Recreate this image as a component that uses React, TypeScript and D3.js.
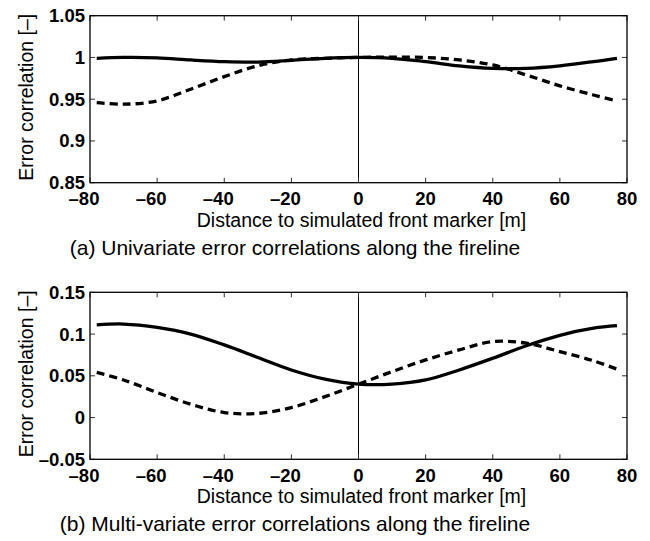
import React from 'react';
import * as d3 from 'd3';

// x positions (m) at which the curves were read
const distances = [-78, -70, -60, -50, -40, -30, -20, -10, 0, 10, 20, 30, 40, 50, 60, 70, 77];

// (a) univariate
const uniSolid = [0.999, 1.0, 0.9995, 0.997, 0.995, 0.9945, 0.9965, 0.999, 1.0, 0.999, 0.995, 0.99, 0.987, 0.987, 0.99, 0.995, 0.999];
const uniDashed = [0.946, 0.944, 0.948, 0.962, 0.977, 0.99, 0.997, 0.999, 1.0, 1.0005, 1.0, 0.997, 0.991, 0.979, 0.966, 0.955, 0.948];

// (b) multi-variate
const multiSolid = [0.111, 0.112, 0.108, 0.1, 0.087, 0.072, 0.057, 0.046, 0.04, 0.04, 0.045, 0.057, 0.071, 0.086, 0.0985, 0.107, 0.11];
const multiDashed = [0.054, 0.045, 0.03, 0.016, 0.006, 0.005, 0.012, 0.025, 0.04, 0.055, 0.069, 0.081, 0.091, 0.089, 0.079, 0.068, 0.058];

const xTicks = [-80, -60, -40, -20, 0, 20, 40, 60, 80];
const uniYTicks = [0.85, 0.9, 0.95, 1, 1.05];
const multiYTicks = [-0.05, 0, 0.05, 0.1, 0.15];

const xLabel = 'Distance to simulated front marker [m]';
const yLabel = 'Error correlation [–]';
const captionA = '(a) Univariate error correlations along the fireline';
const captionB = '(b) Multi-variate error correlations along the fireline';

const W = 650;
const H = 541;
const left = 90;
const right = 627;
const plotH = 167;
const font = '"Liberation Sans", Arial, Helvetica, sans-serif';

const fmt = (v: number) => {
  const s = String(Math.round(v * 1000) / 1000);
  return s.replace('-', '–');
};

interface PanelProps {
  top: number;
  yTicks: number[];
  solid: number[];
  dashed: number[];
  caption: string;
}

const Panel: React.FC<PanelProps> = ({ top, yTicks, solid, dashed, caption }) => {
  const x = d3.scaleLinear().domain([-80, 80]).range([left, right]);
  const y = d3
    .scaleLinear()
    .domain([yTicks[0], yTicks[yTicks.length - 1]])
    .range([top + plotH, top]);

  const line = d3
    .line<number>()
    .x((_, i) => x(distances[i]))
    .y((d) => y(d))
    .curve(d3.curveCatmullRom.alpha(0.5));

  const bottom = top + plotH;
  const tick = 5;

  return (
    <g fontFamily={font}>
      <rect x={left} y={top} width={right - left} height={plotH} fill="#fff" />
      {/* zero line */}
      <line x1={x(0)} x2={x(0)} y1={top} y2={bottom} stroke="#000" strokeWidth={1} />
      <path d={line(solid) || ''} fill="none" stroke="#000" strokeWidth={3.3} />
      <path d={line(dashed) || ''} fill="none" stroke="#000" strokeWidth={3.3} strokeDasharray="8,5" />

      {/* ticks, inward on all sides */}
      {xTicks.map((t) => (
        <g key={'xt' + t}>
          <line x1={x(t)} x2={x(t)} y1={bottom} y2={bottom - tick} stroke="#333" strokeWidth={1} />
          <line x1={x(t)} x2={x(t)} y1={top} y2={top + tick} stroke="#333" strokeWidth={1} />
          <text
            x={x(t)}
            dx={t < 0 ? -6 : 0}
            y={bottom + 22.5}
            textAnchor="middle"
            fontWeight="bold"
            fontSize={18.5}
          >
            {fmt(t)}
          </text>
        </g>
      ))}
      {yTicks.map((t) => (
        <g key={'yt' + t}>
          <line x1={left} x2={left + tick} y1={y(t)} y2={y(t)} stroke="#333" strokeWidth={1} />
          <line x1={right} x2={right - tick} y1={y(t)} y2={y(t)} stroke="#333" strokeWidth={1} />
          <text
            x={left - 5}
            y={y(t) + 6.5}
            textAnchor="end"
            fontWeight="bold"
            fontSize={18.5}
          >
            {fmt(t)}
          </text>
        </g>
      ))}

      <rect x={left} y={top} width={right - left} height={plotH} fill="none" stroke="#000" strokeWidth={1.3} />

      <text x={(left + right) / 2 + 3} y={bottom + 44} textAnchor="middle" fontSize={19.5}>
        {xLabel}
      </text>
      <text
        transform={`translate(${33},${top + plotH / 2 - 2}) rotate(-90)`}
        textAnchor="middle"
        fontSize={19.5}
      >
        {yLabel}
      </text>
      <text x={295} y={bottom + 72} textAnchor="middle" fontSize={21}>
        {caption}
      </text>
    </g>
  );
};

export default function App() {
  return (
    <svg
      width={W}
      height={H}
      style={{ position: 'absolute', left: 0, top: 0, background: '#fff' }}
    >
      <rect width={W} height={H} fill="#fff" />
      <Panel top={15.7} yTicks={uniYTicks} solid={uniSolid} dashed={uniDashed} caption={captionA} />
      <Panel top={292.3} yTicks={multiYTicks} solid={multiSolid} dashed={multiDashed} caption={captionB} />
    </svg>
  );
}
